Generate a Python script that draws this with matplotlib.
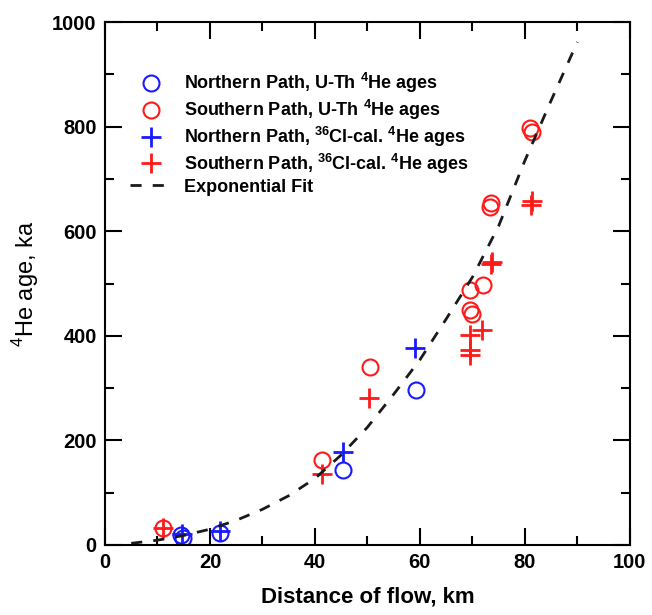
import numpy as np
import matplotlib
matplotlib.use('Agg')
import matplotlib.pyplot as plt

plt.rcParams['font.family'] = ['Liberation Sans', 'DejaVu Sans']
plt.rcParams['font.weight'] = 'bold'
plt.rcParams['mathtext.fontset'] = 'custom'
plt.rcParams['mathtext.rm'] = 'Liberation Sans:bold'
plt.rcParams['mathtext.bf'] = 'Liberation Sans:bold'

# data
north_uth_x = [14.5, 14.8, 22.0, 45.3, 59.2]
north_uth_y = [19, 13, 23, 143, 296]
south_uth_x = [11.0, 41.3, 50.5, 69.6, 72.0, 69.6, 69.9, 73.3, 73.5, 81.0, 81.3]
south_uth_y = [33, 163, 341, 487, 497, 449, 442, 647, 654, 797, 789]
north_cl_x = [14.7, 22.0, 45.3, 59.0]
north_cl_y = [21, 27, 178, 377]
south_cl_x = [11.0, 41.3, 50.3, 69.6, 71.8, 69.6, 69.6, 73.6, 73.8, 81.2, 81.4]
south_cl_y = [33, 136, 281, 401, 411, 373, 363, 537, 541, 651, 657]
fit_x = [5, 10, 15, 20, 25, 30, 35, 40, 45, 50, 55, 60, 65, 70, 75, 80, 85, 90]
fit_y = [3, 9, 18, 30, 47, 68, 94, 127, 172, 225, 288, 354, 432, 512, 610, 735, 850, 962]

blue = '#1a1aff'
red = '#ff1a1a'

fig = plt.figure(figsize=(6.52, 6.15), dpi=100)
ax = fig.add_axes([0.161, 0.114, 0.805, 0.85])

ax.plot(north_uth_x, north_uth_y, 'o', mfc='none', mec=blue, mew=1.5, ms=11.5,
        label=r'Northern Path, U-Th $^{4}$He ages')
ax.plot(south_uth_x, south_uth_y, 'o', mfc='none', mec=red, mew=1.5, ms=11.5,
        label=r'Southern Path, U-Th $^{4}$He ages')
ax.plot(north_cl_x, north_cl_y, '+', color=blue, mew=2, ms=14,
        label=r'Northern Path, $^{36}$Cl-cal. $^{4}$He ages')
ax.plot(south_cl_x, south_cl_y, '+', color=red, mew=2, ms=14,
        label=r'Southern Path, $^{36}$Cl-cal. $^{4}$He ages')
ax.plot(fit_x, fit_y, '--', color='#1a1a1a', lw=2, dashes=(4, 4),
        label='Exponential Fit')

ax.set_xlim(0, 100)
ax.set_ylim(0, 1000)
ax.set_xticks(np.arange(0, 101, 20))
ax.set_xticks(np.arange(0, 101, 10), minor=True)
ax.set_yticks(np.arange(0, 1001, 200))
ax.set_yticks(np.arange(0, 1001, 100), minor=True)
ax.tick_params(which='both', direction='in', top=True, right=True, width=1.5,
               labelsize=14.5)
ax.tick_params(which='major', length=12, pad=6)
ax.tick_params(which='minor', length=6.5)
for s in ax.spines.values():
    s.set_linewidth(1.5)

ax.set_xlabel('Distance of flow, km', fontsize=16, fontweight='bold', labelpad=10)
ax.set_ylabel(r'$^{\mathregular{4}}$He age, ka', fontsize=17, fontweight='normal',
              labelpad=8)

leg = ax.legend(loc='upper left', bbox_to_anchor=(0.048, 0.906), frameon=False,
                borderaxespad=0, borderpad=0, fontsize=13, handlelength=2.3,
                handletextpad=0.7, labelspacing=0.15)

fig.savefig('out.png', dpi=100)
